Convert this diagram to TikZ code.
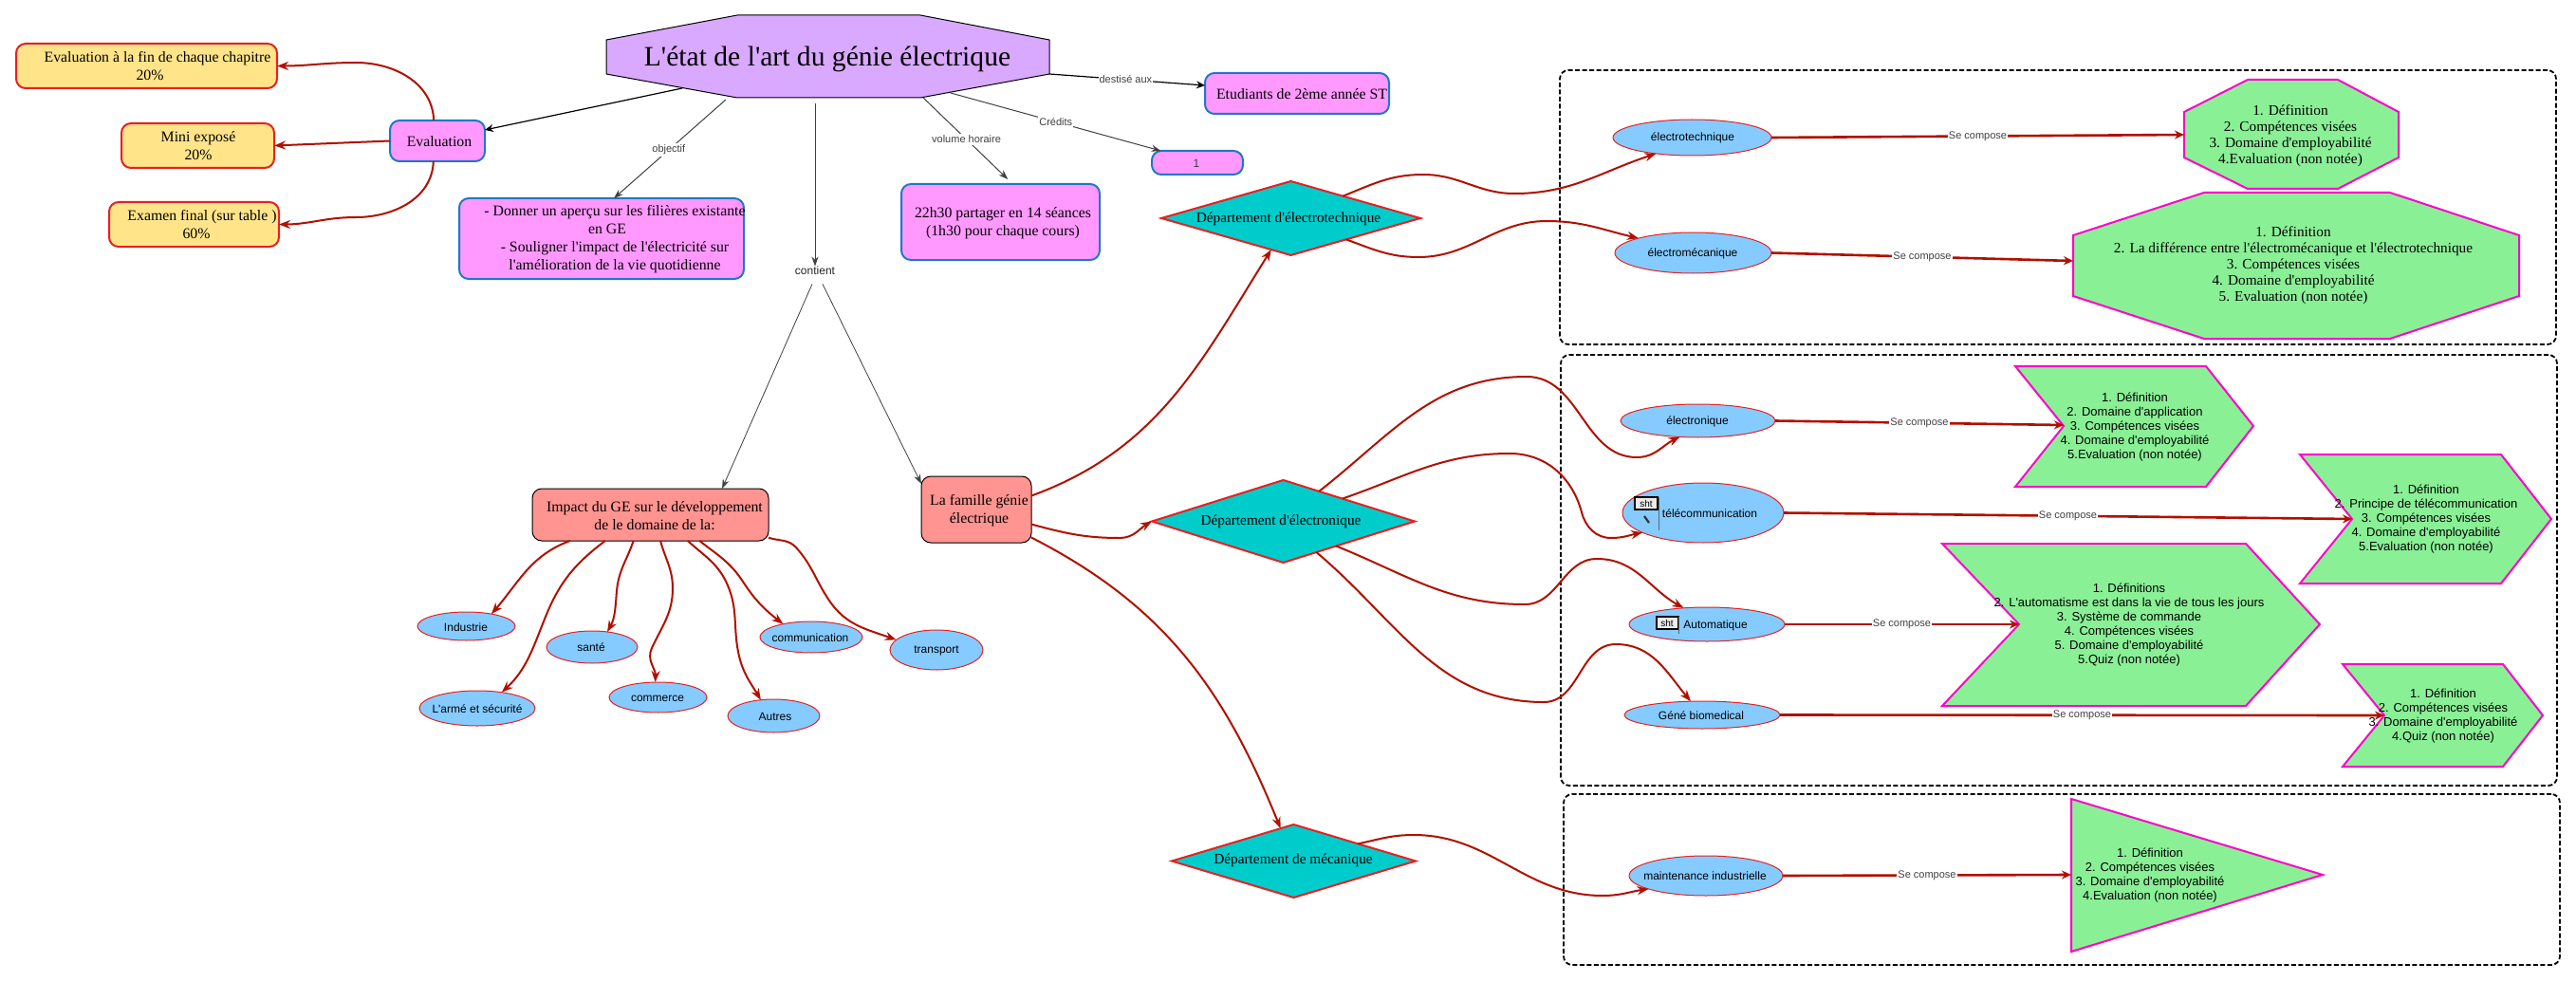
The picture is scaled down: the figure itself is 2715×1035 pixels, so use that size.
\documentclass[tikz,border=0pt]{standalone}
\usepackage{fontspec}
\setmainfont{Liberation Serif}[Ligatures=TeXOff]
\setsansfont{Liberation Sans}[Ligatures=TeXOff]
\usetikzlibrary{arrows.meta,shapes.geometric,fit}
\definecolor{titlefill}{HTML}{D9A9FF}
\definecolor{pinkfill}{HTML}{FF99FF}
\definecolor{blueline}{HTML}{1F78C8}
\definecolor{yellowfill}{HTML}{FFE48A}
\definecolor{redline}{HTML}{E82020}
\definecolor{salmon}{HTML}{FF9490}
\definecolor{tealfill}{HTML}{00CCCC}
\definecolor{skyfill}{HTML}{85CBFF}
\definecolor{greenfill}{HTML}{8AF096}
\definecolor{magline}{HTML}{FF00CC}
\definecolor{arrowred}{HTML}{B01000}
\tikzset{
  every node/.style={inner sep=0pt,outer sep=0pt},
  serif/.style={font=\fontsize{15.8}{19}\selectfont,align=center},
  serifs/.style={font=\fontsize{15.3}{17}\selectfont,align=center},
  sans/.style={font=\sffamily\fontsize{13}{15}\selectfont,align=center},
  sanss/.style={font=\sffamily\fontsize{12}{14}\selectfont,align=center},
  edgelabel/.style={font=\sffamily\fontsize{11}{12}\selectfont,fill=white,text=black!75,inner xsep=1pt,inner ysep=2pt},
  infobox/.style={rectangle,rounded corners=10pt,draw=blueline,line width=2pt,fill=pinkfill},
  notebox/.style={rectangle,rounded corners=10pt,draw=redline,line width=2pt,fill=yellowfill},
  headbox/.style={rectangle,rounded corners=10pt,draw=black,line width=1pt,fill=salmon},
  dept/.style={diamond,draw=redline,line width=2pt,fill=tealfill},
  leaf/.style={ellipse,draw=redline,line width=1pt,fill=skyfill},
  group/.style={rectangle,rounded corners=9pt,draw=black,line width=1.8pt,dash pattern=on 5pt off 2.5pt},
  poly/.style={draw=magline,line width=2pt,fill=greenfill},
  link/.style={draw=black!75,line width=1pt,-{Stealth[length=10pt,width=7pt]}},
  blink/.style={draw=black,line width=1.2pt,-{Stealth[length=9pt,width=8pt]}},
  flow/.style={draw=arrowred,line width=2pt,-{Stealth[length=12pt,width=9pt]}},
  compose/.style={draw=arrowred,line width=2.6pt,-{Stealth[length=10pt,width=9pt]}},
  tag/.style={draw=black,line width=1.8pt,fill=white!92!black},
  size/.style 2 args={minimum width=#1 pt,minimum height=#2 pt},
}
\begin{document}
\begin{tikzpicture}[x=1pt,y=-1pt]
\useasboundingbox (0,0) rectangle (2715,1035);

% Dashed department frames
\node[group,fit={(1644,74)(2694,363)}] (g1) {};
\node[group,fit={(1645,374)(2695,828)}] (g2) {};
\node[group,fit={(1648,837)(2698,1017)}] (g3) {};

% Title and top row
\draw[fill=titlefill,draw=black,line width=1pt] (777,16)--(970,16)--(1106,42)--(1106,78)--(970,103)--(777,103)--(639,78)--(639,42)--cycle;
\node[font=\fontsize{29.6}{34}\selectfont] (title) at (872,62) {L'état de l'art du génie électrique};
\coordinate (tEv) at (719,93);
\coordinate (tOb) at (765,105);
\coordinate (tCo) at (859,109);
\coordinate (tVo) at (973,103);
\coordinate (tCr) at (1002,98);
\coordinate (tDe) at (1106,78);

\node[infobox,fit={(411,127)(511,170)}] (ev) {};
\node[serif] (evt) at (463,149) {Evaluation};
\node[notebox,fit={(17,46)(292,93)}] (b1) {};
\node[serif] (b1t) at (158,70) {\hspace*{16pt}Evaluation à la fin de chaque chapitre\\20\%};
\node[notebox,fit={(128,130)(289,177)}] (b2) {};
\node[serif] (b2t) at (209,154) {Mini exposé\\20\%};
\node[notebox,fit={(115,213)(294,260)}] (b3) {};
\node[serif] (b3t) at (207,237) {\hspace*{12pt}Examen final (sur table )\\60\%};
\node[infobox,fit={(484,209)(784,294)}] (obj) {};
\node[serif] (objt) at (640,252) {\hspace*{16pt}- Donner un aperçu sur les filières existante\\en GE\\\hspace*{16pt}- Souligner l'impact de l'électricité sur\\\hspace*{16pt}l'amélioration de la vie quotidienne};
\node[infobox,fit={(950,194)(1159,274)}] (vol) {};
\node[serif] (volt) at (1057,235) {22h30 partager en 14 séances\\(1h30 pour chaque cours)};
\node[infobox,fit={(1270,77)(1464,120)}] (etu) {};
\node[serif] (etut) at (1372,99) {Etudiants de 2ème année ST};
\node[infobox,fit={(1214,159)(1310,184)}] (cred) {};
\node[sanss,text=black!75] (credt) at (1261,172) {1};
\node[font=\sffamily\fontsize{12}{14}\selectfont,text=black!85] (ct) at (859,285) {contient};

% Central branches
\node[headbox,fit={(561,515)(810,570)}] (imp) {};
\node[serif] (impt) at (690,544) {Impact du GE sur le développement\\de le domaine de la:};
\node[headbox,fit={(971,502)(1087,572)}] (fam) {};
\node[serif] (famt) at (1032,538) {La famille génie\\électrique};

\node[leaf,size={103}{30}] (ind) at (491.5,660) {};
\node[sanss] at (491,661) (indt) {Industrie};
\node[leaf,size={96}{34}] (san) at (624,682) {};
\node[sanss] at (623,682) (sant) {santé};
\node[leaf,size={103}{32}] (com) at (693.5,735) {};
\node[sanss] at (693,736) (comt) {commerce};
\node[leaf,size={122}{37}] (arm) at (503,746.5) {};
\node[sanss] at (503,747) (armt) {L'armé et sécurité};
\node[leaf,size={97}{35}] (aut) at (815.5,754.5) {};
\node[sanss] at (817,755) (autt) {Autres};
\node[leaf,size={108}{33}] (cmm) at (855,671.5) {};
\node[sanss] at (854,672) (cmmt) {communication};
\node[leaf,size={98}{42}] (tra) at (987,685) {};
\node[sanss] at (987,686) (trat) {transport};

% Departments
\node[dept,size={273}{78}] (dtk) at (1360.5,230) {};
\node[serifs] (dtkt) at (1358,231) {Département d'électrotechnique};
\node[dept,size={277}{87}] (del) at (1352.5,549.5) {};
\node[serifs] (delt) at (1350,550) {Département d'électronique};
\node[dept,size={257}{77}] (dme) at (1363.5,907.5) {};
\node[serifs] (dmet) at (1363,907) {Département de mécanique};

% Course topics
\node[leaf,size={167}{38}] (eltk) at (1783.5,145) {};
\node[sanss] (eltkt) at (1784,145) {électrotechnique};
\node[leaf,size={165}{43}] (elmc) at (1784.5,266.5) {};
\node[sanss] (elmct) at (1784,267) {électromécanique};
\node[leaf,size={163}{35}] (eltn) at (1789.5,443.5) {};
\node[sanss] (eltnt) at (1789,444) {électronique};
\node[leaf,size={170}{63}] (tele) at (1795,540.5) {};
\node[sanss] (telet) at (1802,541) {télécommunication};
\node[tag,fit={(1723,524)(1747,537)}] (tag1) {};
\node[font=\sffamily\fontsize{10}{12}\selectfont] (tag1t) at (1735,531) {sht};
\draw[line width=2.2pt,black!80] (1733,544)--(1738,551);
\draw[line width=.6pt,black!60] (1748,524)--(1748,559);
\node[leaf,size={164}{36}] (auto) at (1799,658) {};
\node[sanss] (autot) at (1808,659) {Automatique};
\node[tag,fit={(1746,650)(1769,663)}] (tag2) {};
\node[font=\sffamily\fontsize{10}{12}\selectfont] (tag2t) at (1757,657) {sht};
\draw[line width=.6pt,black!60] (1769,650)--(1769,668);
\node[leaf,size={164}{29}] (gene) at (1794,753.5) {};
\node[sanss] (genet) at (1793,754) {Géné biomedical};
\node[leaf,size={162}{42}] (mnt) at (1798,923) {};
\node[sanss] (mntt) at (1797,923) {maintenance industrielle};

% Outline documents
\draw[poly] (2369,84)--(2464,84)--(2528,118)--(2528,166)--(2464,199)--(2369,199)--(2302,166)--(2302,118)--cycle;
\node[serifs] (oc1) at (2414,143) {1. Définition\\2. Compétences visées\\3. Domaine d'employabilité\\4.Evaluation (non notée)};
\coordinate (oc1w) at (2302,142);
\draw[poly] (2323,203)--(2519,203)--(2655,248)--(2655,312)--(2519,357)--(2323,357)--(2185,312)--(2185,248)--cycle;
\node[serifs] (oc2) at (2417,280) {1. Définition\\2. La différence entre l'électromécanique et l'électrotechnique\\3. Compétences visées\\4. Domaine d'employabilité\\5. Evaluation (non notée)};
\coordinate (oc2w) at (2185,275);
\draw[poly] (2124,386)--(2325,386)--(2375,449)--(2325,513)--(2124,513)--(2175,449)--cycle;
\node[sans] (ch1) at (2250,450) {1. Définition\\2. Domaine d'application\\3. Compétences visées\\4. Domaine d'employabilité\\5.Evaluation (non notée)};
\coordinate (ch1n) at (2175,448);
\draw[poly] (2424,479)--(2636,479)--(2689,547)--(2636,615)--(2424,615)--(2479,547)--cycle;
\node[sans] (ch2) at (2557,547) {1. Définition\\2. Principe de télécommunication\\3. Compétences visées\\4. Domaine d'employabilité\\5.Evaluation (non notée)};
\coordinate (ch2n) at (2479,547);
\draw[poly] (2047,573)--(2367,573)--(2445,658)--(2367,744)--(2047,744)--(2128,658)--cycle;
\node[sans] (ch3) at (2244,658.5) {1. Définitions\\2. L'automatisme est dans la vie de tous les jours\\3. Système de commande\\4. Compétences visées\\5. Domaine d'employabilité\\5.Quiz (non notée)};
\coordinate (ch3n) at (2128,658);
\draw[poly] (2469,700)--(2638,700)--(2680,754)--(2638,808)--(2469,808)--(2513,754)--cycle;
\node[sans] (ch4) at (2575,754.5) {1. Définition\\2. Compétences visées\\3. Domaine d'employabilité\\4.Quiz (non notée)};
\coordinate (ch4n) at (2513,754);
\draw[poly] (2183,842)--(2448,922)--(2183,1003)--cycle;
\node[sans] (tr1) at (2266,922.5) {1. Définition\\2. Compétences visées\\3. Domaine d'employabilité\\4.Evaluation (non notée)};
\coordinate (tr1w) at (2183,922);

% Links from the title
\draw[blink] (tEv) -- (ev.13);
\draw[link] (tOb) -- node[edgelabel,pos=.51] {objectif} (obj.73);
\draw[link,line width=.8pt] (tCo) -- (ct.north);
\draw[link] (tVo) -- node[edgelabel,pos=.51] {volume horaire} ([yshift=5pt]vol.79);
\draw[link] (tCr) -- node[edgelabel,pos=.5] {Crédits} (cred.162);
\draw[blink] (tDe) -- node[edgelabel,pos=.49] {destisé aux} (etu.175);
\draw[link,line width=.8pt] ([xshift=-3pt,yshift=-10pt]ct.south) -- (imp.20);
\draw[link,line width=.8pt] ([xshift=8pt,yshift=-10pt]ct.south) -- (fam.155);

% Evaluation breakdown
\draw[flow] (ev.100) to[out=92,in=0] (375,66) to[out=180,in=0] (b1.east);
\draw[flow] (ev.west) -- (b2.east);
\draw[flow] (ev.259) to[out=268,in=0] (375,229) to[out=180,in=0] (b3.east);

% Impact areas
\draw[flow] (imp.198) to[out=200,in=49] (ind.26);
\draw[flow] (imp.210) to[out=217,in=68] (575,650) to[out=248,in=43] (arm.33);
\draw[flow] (imp.237) to[out=251,in=85] (650,623) to[out=265,in=61] (san.45);
\draw[flow] (imp.291) to[out=285,in=90] (709,620) to[out=270,in=65] (687,683) to[out=245,in=88] (com.100);
\draw[flow] (imp.325) to[out=318,in=113] (767,617) to[out=293,in=101] (778,687) to[out=281,in=121] (aut.129);
\draw[flow] (imp.332) to[out=322,in=123] (783,613) to[out=303,in=142] (cmm.155);
\draw[flow] (imp.349) to[out=342,in=132] (839,577) to[out=312,in=124] (874,633) to[out=304,in=160] (tra.166);

% Family to departments
\draw[flow] (fam.14) to[out=20,in=238] (dtk.238);
\draw[flow] (fam.345) to[out=345,in=180] (1180,567) to[out=0,in=210] (del.west);
\draw[flow] (fam.333) to[out=333,in=112] (dme.112);

% Departments to topics
\draw[flow] (dtk.23) to[out=22,in=180] (1500,184) to[out=0,in=180] (1596,204) to[out=0,in=198] (eltk.204);
\draw[flow] (dtk.339) to[out=340,in=180] (1495,271) to[out=0,in=180] (1630,233) to[out=0,in=167] (elmc.165);
\draw[flow] (del.40) to[out=38,in=180] (1609,397) to[out=0,in=180] (1725,482) to[out=0,in=205] (eltn.222);
\draw[flow] (del.21) to[out=19,in=180] (1591,478) to[out=0,in=105] (1667,540) to[out=285,in=180] (1698,567) to[out=0,in=191] (tele.198);
\draw[flow] (del.335) to[out=338,in=180] (1607,637) to[out=0,in=180] (1683,589) to[out=0,in=151] (auto.145);
\draw[flow] (del.317) to[out=320,in=180] (1627,740) to[out=0,in=180] (1703,679) to[out=0,in=130] (gene.130);
\draw[flow] (dme.15) to[out=12,in=180] (1490,880) to[out=0,in=180] (1689,944) to[out=0,in=188] (mnt.193);

% Topics to outlines
\draw[compose] (eltk.east) -- node[edgelabel,pos=.5] {Se compose} (oc1w);
\draw[compose] (elmc.east) -- node[edgelabel,pos=.5] {Se compose} (oc2w);
\draw[compose] (eltn.east) -- node[edgelabel,pos=.5] {Se compose} (ch1n);
\draw[compose] (tele.east) -- node[edgelabel,pos=.5] {Se compose} (ch2n);
\draw[compose] (auto.east) -- node[edgelabel,pos=.5] {Se compose} (ch3n);
\draw[compose] (gene.east) -- node[edgelabel,pos=.5] {Se compose} (ch4n);
\draw[compose] (mnt.east) -- node[edgelabel,pos=.5] {Se compose} (tr1w);
\end{tikzpicture}
\end{document}
